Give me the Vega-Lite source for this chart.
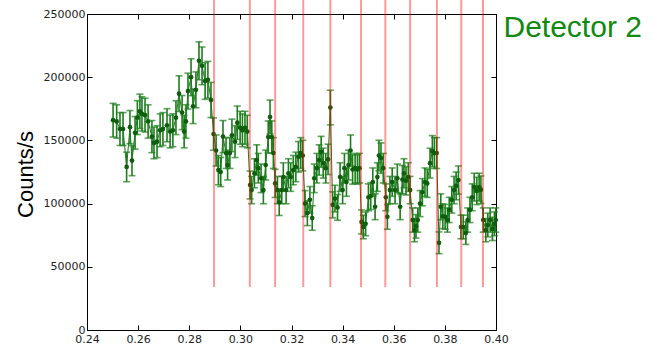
{
  "$schema": "https://vega.github.io/schema/vega-lite/v6.json",
  "width": 409,
  "height": 316,
  "autosize": "none",
  "padding": {"left": 87, "top": 14, "right": 172, "bottom": 17},
  "config": {
    "view": {"stroke": "#000", "strokeWidth": 1},
    "font": "DejaVu Sans",
    "axis": {"grid": false, "domain": false, "tickColor": "#000", "tickWidth": 1, "tickSize": -5, "labelFlush": false, "labelFont": "DejaVu Sans", "labelFontSize": 11, "labelColor": "#222"}
  },
  "datasets": {
    "pts": [
      {"x":0.2502,"counts":166000,"err":13300},{"x":0.2516,"counts":165000,"err":13200},{"x":0.2529,"counts":159000,"err":13000},{"x":0.2541,"counts":159000,"err":13000},{"x":0.2555,"counts":129000,"err":11700},{"x":0.2568,"counts":160500,"err":13100},{"x":0.2576,"counts":134000,"err":11900},{"x":0.2588,"counts":156000,"err":12900},{"x":0.2597,"counts":168000,"err":13400},{"x":0.2607,"counts":173000,"err":13600},
      {"x":0.2615,"counts":171000,"err":13500},{"x":0.2627,"counts":170000,"err":13400},{"x":0.2639,"counts":165000,"err":13200},{"x":0.2654,"counts":153000,"err":12700},{"x":0.2662,"counts":148000,"err":12500},{"x":0.2674,"counts":149000,"err":12600},{"x":0.2686,"counts":158000,"err":13000},{"x":0.2697,"counts":159000,"err":13000},{"x":0.2713,"counts":162000,"err":13100},{"x":0.2725,"counts":157000,"err":12900},
      {"x":0.2736,"counts":158000,"err":13000},{"x":0.2748,"counts":168000,"err":13400},{"x":0.2760,"counts":187000,"err":14100},{"x":0.2772,"counts":172000,"err":13500},{"x":0.2780,"counts":157000,"err":12900},{"x":0.2787,"counts":165000,"err":13200},{"x":0.2795,"counts":189000,"err":14200},{"x":0.2807,"counts":200000,"err":14600},{"x":0.2815,"counts":177000,"err":13700},{"x":0.2826,"counts":190000,"err":14200},
      {"x":0.2838,"counts":213000,"err":15000},{"x":0.2850,"counts":209000,"err":14900},{"x":0.2862,"counts":197000,"err":14500},{"x":0.2873,"counts":198000,"err":14500},{"x":0.2885,"counts":182000,"err":13900},{"x":0.2895,"counts":155000,"err":12800},{"x":0.2905,"counts":142000,"err":12300},{"x":0.2914,"counts":126500,"err":11600},{"x":0.2923,"counts":125000,"err":11500},{"x":0.2932,"counts":153000,"err":12700},
      {"x":0.2944,"counts":140000,"err":12200},{"x":0.2950,"counts":130500,"err":11800},{"x":0.2959,"counts":140000,"err":12200},{"x":0.2967,"counts":154000,"err":12800},{"x":0.2979,"counts":149000,"err":12600},{"x":0.2988,"counts":164000,"err":13200},{"x":0.2999,"counts":160000,"err":13000},{"x":0.3008,"counts":158000,"err":13000},{"x":0.3018,"counts":160000,"err":13000},{"x":0.3027,"counts":157000,"err":12900},
      {"x":0.3038,"counts":114700,"err":11000},{"x":0.3044,"counts":110700,"err":10800},{"x":0.3055,"counts":124000,"err":11500},{"x":0.3064,"counts":134500,"err":12000},{"x":0.3070,"counts":128000,"err":11700},{"x":0.3081,"counts":120000,"err":11300},{"x":0.3090,"counts":110700,"err":10800},{"x":0.3099,"counts":130500,"err":11800},{"x":0.3109,"counts":152700,"err":12700},{"x":0.3116,"counts":168500,"err":13400},
      {"x":0.3123,"counts":152700,"err":12700},{"x":0.3129,"counts":140000,"err":12200},{"x":0.3136,"counts":116000,"err":11100},{"x":0.3145,"counts":110700,"err":10800},{"x":0.3152,"counts":101000,"err":10400},{"x":0.3162,"counts":110700,"err":10800},{"x":0.3168,"counts":121000,"err":11300},{"x":0.3179,"counts":110700,"err":10800},{"x":0.3188,"counts":124000,"err":11500},{"x":0.3197,"counts":121000,"err":11300},
      {"x":0.3207,"counts":126500,"err":11600},{"x":0.3217,"counts":129000,"err":11700},{"x":0.3227,"counts":137000,"err":12100},{"x":0.3236,"counts":140000,"err":12200},{"x":0.3244,"counts":138000,"err":12100},{"x":0.3253,"counts":100000,"err":10300},{"x":0.3262,"counts":92500,"err":9900},{"x":0.3272,"counts":103000,"err":10500},{"x":0.3281,"counts":88600,"err":9700},{"x":0.3289,"counts":120000,"err":11300},
      {"x":0.3299,"counts":128000,"err":11700},{"x":0.3308,"counts":134500,"err":12000},{"x":0.3316,"counts":141000,"err":12200},{"x":0.3324,"counts":132000,"err":11800},{"x":0.3334,"counts":128000,"err":11700},{"x":0.3343,"counts":135000,"err":12000},{"x":0.3352,"counts":176000,"err":13700},{"x":0.3361,"counts":99000,"err":10300},{"x":0.3370,"counts":104000,"err":10500},{"x":0.3380,"counts":97000,"err":10200},
      {"x":0.3390,"counts":121000,"err":11300},{"x":0.3400,"counts":110700,"err":10800},{"x":0.3407,"counts":128000,"err":11700},{"x":0.3415,"counts":117000,"err":11200},{"x":0.3423,"counts":130500,"err":11800},{"x":0.3431,"counts":142000,"err":12300},{"x":0.3439,"counts":127000,"err":11600},{"x":0.3449,"counts":128000,"err":11700},{"x":0.3458,"counts":127000,"err":11600},{"x":0.3466,"counts":128000,"err":11700},
      {"x":0.3474,"counts":85500,"err":9500},{"x":0.3481,"counts":81500,"err":9300},{"x":0.3490,"counts":84000,"err":9400},{"x":0.3501,"counts":105000,"err":10600},{"x":0.3510,"counts":106000,"err":10600},{"x":0.3518,"counts":117000,"err":11200},{"x":0.3527,"counts":97500,"err":10200},{"x":0.3536,"counts":121000,"err":11300},{"x":0.3542,"counts":138000,"err":12100},{"x":0.3550,"counts":136000,"err":12000},
      {"x":0.3559,"counts":128000,"err":11700},{"x":0.3569,"counts":105000,"err":10600},{"x":0.3575,"counts":89500,"err":9800},{"x":0.3585,"counts":110700,"err":10800},{"x":0.3594,"counts":117000,"err":11200},{"x":0.3605,"counts":110700,"err":10800},{"x":0.3614,"counts":120000,"err":11300},{"x":0.3625,"counts":97500,"err":10200},{"x":0.3634,"counts":119000,"err":11200},{"x":0.3640,"counts":124000,"err":11500},
      {"x":0.3648,"counts":118000,"err":11200},{"x":0.3657,"counts":121000,"err":11300},{"x":0.3664,"counts":110700,"err":10800},{"x":0.3674,"counts":87000,"err":9600},{"x":0.3681,"counts":79000,"err":9200},{"x":0.3687,"counts":82000,"err":9300},{"x":0.3694,"counts":87000,"err":9600},{"x":0.3703,"counts":100000,"err":10300},{"x":0.3712,"counts":109000,"err":10800},{"x":0.3722,"counts":117000,"err":11200},
      {"x":0.3731,"counts":116000,"err":11100},{"x":0.3742,"counts":132000,"err":11800},{"x":0.3751,"counts":141500,"err":12300},{"x":0.3759,"counts":140000,"err":12200},{"x":0.3768,"counts":140000,"err":12200},{"x":0.3777,"counts":69000,"err":8600},{"x":0.3784,"counts":97500,"err":10200},{"x":0.3792,"counts":90000,"err":9800},{"x":0.3801,"counts":89500,"err":9800},{"x":0.3810,"counts":87000,"err":9600},
      {"x":0.3817,"counts":95000,"err":10000},{"x":0.3827,"counts":103000,"err":10500},{"x":0.3836,"counts":110700,"err":10800},{"x":0.3844,"counts":114000,"err":11000},{"x":0.3853,"counts":118600,"err":11200},{"x":0.3863,"counts":81500,"err":9300},{"x":0.3872,"counts":81500,"err":9300},{"x":0.3882,"counts":76700,"err":9000},{"x":0.3889,"counts":87000,"err":9600},{"x":0.3898,"counts":95000,"err":10000},
      {"x":0.3907,"counts":105000,"err":10600},{"x":0.3915,"counts":113000,"err":11000},{"x":0.3925,"counts":110000,"err":10800},{"x":0.3934,"counts":113000,"err":11000},{"x":0.3941,"counts":111000,"err":10900},{"x":0.3950,"counts":87000,"err":9600},{"x":0.3960,"counts":79000,"err":9200},{"x":0.3968,"counts":83000,"err":9400},{"x":0.3977,"counts":87000,"err":9600},{"x":0.3986,"counts":80000,"err":9200},
      {"x":0.3994,"counts":84000,"err":9400},{"x":0.3999,"counts":87000,"err":9600}
    ],
    "vl": [
      {"x":0.2897,"lo":34000,"hi":262000},{"x":0.3037,"lo":34000,"hi":262000},{"x":0.3136,"lo":34000,"hi":262000},{"x":0.3246,"lo":34000,"hi":262000},{"x":0.3352,"lo":34000,"hi":262000},{"x":0.3472,"lo":34000,"hi":262000},{"x":0.3567,"lo":34000,"hi":262000},{"x":0.3664,"lo":34000,"hi":262000},{"x":0.3769,"lo":34000,"hi":262000},{"x":0.3864,"lo":34000,"hi":262000},{"x":0.3949,"lo":34000,"hi":262000}
    ]
  },
  "resolve": {"axis": {"x": "independent", "y": "independent"}},
  "layer": [
    {
      "data": {"name": "pts"},
      "mark": {"type": "errorbar", "color": "#1b7d1b", "thickness": 1.6, "ticks": {"size": 7, "thickness": 1.6}},
      "encoding": {
        "x": {"field": "x", "type": "quantitative", "scale": {"domain": [0.24, 0.40], "nice": false, "zero": false},
              "axis": {"orient": "bottom", "title": null, "values": [0.24,0.26,0.28,0.30,0.32,0.34,0.36,0.38,0.40], "format": ".2f", "labelPadding": 8}},
        "y": {"field": "counts", "type": "quantitative", "scale": {"domain": [0, 250000], "nice": false},
              "axis": {"orient": "left", "title": "Counts/s", "values": [0,50000,100000,150000,200000,250000], "format": "d", "labelPadding": 7,
                       "titleFont": "Liberation Sans", "titleFontSize": 22, "titleFontWeight": "normal", "titleColor": "#000", "titleX": -62, "titleY": 160, "titleAngle": -90, "titleBaseline": "middle"}},
        "yError": {"field": "err"}
      }
    },
    {
      "data": {"name": "pts"},
      "mark": {"type": "line", "color": "#1f7a1f", "strokeWidth": 1},
      "encoding": {
        "x": {"field": "x", "type": "quantitative", "axis": null},
        "y": {"field": "counts", "type": "quantitative", "axis": null}
      }
    },
    {
      "data": {"name": "pts"},
      "mark": {"type": "point", "filled": true, "size": 22, "color": "#0e5e0e", "opacity": 1},
      "encoding": {
        "x": {"field": "x", "type": "quantitative", "axis": null},
        "y": {"field": "counts", "type": "quantitative", "axis": null}
      }
    },
    {
      "data": {"name": "vl"},
      "mark": {"type": "rule", "color": "#ff0000", "opacity": 0.4, "strokeWidth": 2, "clip": false},
      "encoding": {
        "x": {"field": "x", "type": "quantitative", "axis": {"orient": "top", "title": null, "labels": false, "values": [0.24,0.26,0.28,0.30,0.32,0.34,0.36,0.38,0.40]}},
        "y": {"field": "lo", "type": "quantitative", "axis": {"orient": "right", "labels": false, "values": [0,50000,100000,150000,200000,250000],
              "title": "Detector 2", "titleFont": "Liberation Sans", "titleFontSize": 30, "titleFontWeight": "normal", "titleColor": "#108a10",
              "titleAngle": 0, "titleAlign": "left", "titleBaseline": "alphabetic", "titleX": 7, "titleY": 22}},
        "y2": {"field": "hi"}
      }
    }
  ]
}
